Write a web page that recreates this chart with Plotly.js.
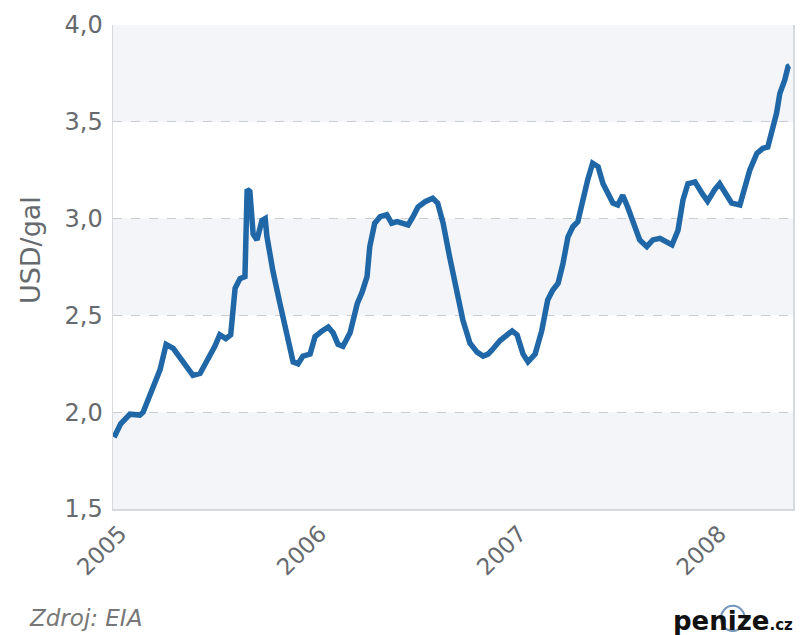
<!DOCTYPE html>
<html>
<head>
<meta charset="utf-8">
<script src="https://cdn.plot.ly/plotly-3.0.1.min.js"></script>
<style>
  html, body { margin: 0; padding: 0; background: #ffffff; }
  #chart { width: 800px; height: 635px; }
</style>
</head>
<body>
<div id="chart"></div>
<script>
// Weekly retail gasoline price, USD per gallon (source: EIA)
const dates = [
  '2005-01-03','2005-01-15','2005-02-01','2005-02-19','2005-02-25','2005-03-11','2005-03-28',
  '2005-04-08','2005-04-21','2005-05-09','2005-05-27','2005-06-09','2005-06-23','2005-07-06',
  '2005-07-15','2005-07-26','2005-08-04','2005-08-12','2005-08-21','2005-08-30','2005-09-03',
  '2005-09-08','2005-09-14','2005-09-21','2005-09-30','2005-10-06','2005-10-09','2005-10-20',
  '2005-11-02','2005-11-15','2005-11-26','2005-12-05','2005-12-14','2005-12-27','2006-01-05',
  '2006-01-18','2006-01-29','2006-02-07','2006-02-16','2006-02-25','2006-03-10','2006-03-23',
  '2006-04-01','2006-04-10','2006-04-15','2006-04-24','2006-05-04','2006-05-16','2006-05-25',
  '2006-06-04','2006-06-15','2006-06-24','2006-07-03','2006-07-12','2006-07-25','2006-08-08',
  '2006-08-17','2006-08-27','2006-09-08','2006-09-21','2006-10-02','2006-10-15','2006-10-28',
  '2006-11-08','2006-11-17','2006-11-24','2006-12-09','2006-12-31','2007-01-09','2007-01-20',
  '2007-01-29','2007-02-11','2007-02-23','2007-03-06','2007-03-15','2007-03-25','2007-04-03',
  '2007-04-12','2007-04-21','2007-04-30','2007-05-09','2007-05-18','2007-05-27','2007-06-06',
  '2007-06-15','2007-06-22','2007-07-03','2007-07-12','2007-07-21','2007-07-30','2007-08-09',
  '2007-08-21','2007-09-03','2007-09-14','2007-09-27','2007-10-10','2007-10-19','2007-10-30',
  '2007-11-08','2007-11-17','2007-11-30','2007-12-13','2007-12-23','2008-01-05','2008-01-14',
  '2008-01-25','2008-02-05','2008-02-20','2008-02-29','2008-03-09','2008-03-22','2008-04-02',
  '2008-04-11','2008-04-20','2008-04-27','2008-05-03','2008-05-12','2008-05-18','2008-05-21'
];

const prices = [
  1.87, 1.94, 1.99, 1.985, 2.00, 2.10, 2.22,
  2.35, 2.33, 2.26, 2.19, 2.20, 2.27, 2.34,
  2.40, 2.38, 2.40, 2.64, 2.69, 2.70, 3.15,
  3.14, 2.92, 2.89, 2.99, 3.00, 2.91, 2.73,
  2.56, 2.39, 2.26, 2.25, 2.29, 2.30, 2.39,
  2.42, 2.44, 2.41, 2.35, 2.34, 2.41, 2.56,
  2.62, 2.70, 2.855, 2.976, 3.01, 3.02, 2.976,
  2.984, 2.976, 2.967, 3.01, 3.06, 3.087, 3.105,
  3.08, 2.976, 2.80, 2.63, 2.476, 2.356, 2.31,
  2.29, 2.30, 2.32, 2.37, 2.42, 2.40, 2.30,
  2.26, 2.30, 2.42, 2.58, 2.63, 2.666, 2.77,
  2.906, 2.958, 2.984, 3.096, 3.20, 3.286, 3.268,
  3.18, 3.14, 3.08, 3.07, 3.12, 3.06, 2.976,
  2.89, 2.855, 2.89, 2.898, 2.88, 2.864, 2.94,
  3.096, 3.18, 3.19, 3.13, 3.09, 3.15, 3.18,
  3.13, 3.08, 3.07, 3.165, 3.25, 3.337, 3.363,
  3.37, 3.458, 3.544, 3.647, 3.716, 3.785, 3.79
];

const yTicks = [1.5, 2.0, 2.5, 3.0, 3.5, 4.0];
const yearTicks = ['2005-01-01', '2006-01-01', '2007-01-01', '2008-01-01'];
const yearLabels = ['2005', '2006', '2007', '2008'];

// Alternating shaded bands between gridlines
const bandShapes = [];
for (let i = 0; i < yTicks.length - 1; i += 2) {
  bandShapes.push({
    type: 'rect', xref: 'paper', yref: 'y', layer: 'below',
    x0: 0, x1: 1, y0: yTicks[i], y1: yTicks[i + 1],
    fillcolor: '#f3f5f8', line: { width: 0 }
  });
}

const trace = {
  x: dates, y: prices, type: 'scatter', mode: 'lines',
  line: { color: '#1f67a6', width: 5.5, shape: 'linear' },
  hoverinfo: 'x+y'
};

const labelColor = '#666a6e';

const layout = {
  width: 800, height: 635,
  margin: { l: 113, r: 7, t: 25, b: 126 },
  paper_bgcolor: '#ffffff', plot_bgcolor: 'rgba(0,0,0,0)',
  separators: ', ',
  showlegend: false,
  font: { family: 'DejaVu Sans, Arial, sans-serif', color: labelColor },
  xaxis: {
    type: 'date', range: ['2005-01-01', '2008-05-27'],
    tickvals: yearTicks, ticktext: yearLabels,
    tickangle: -45, tickfont: { size: 23, color: labelColor },
    ticklabelshift: 7,
    showgrid: false, zeroline: false,
    showline: true, linecolor: '#d6d9dd', linewidth: 2,
    ticks: ''
  },
  yaxis: {
    range: [1.5, 4.0], tickvals: yTicks, tickformat: '.1f',
    tickfont: { size: 24, color: labelColor },
    ticklabelstandoff: 4,
    showgrid: true, gridcolor: '#c9cdd2', griddash: 'dash', gridwidth: 1,
    zeroline: false, showline: true, mirror: true,
    linecolor: '#d6d9dd', linewidth: 1.5, ticks: ''
  },
  shapes: bandShapes.concat([
    // ring of the penize.cz mark around the letter i
    { type: 'circle', xref: 'paper', yref: 'paper',
      x0: 0.894, x1: 0.929, y0: -0.252, y1: -0.200,
      line: { color: '#7396ba', width: 2 }, layer: 'above' }
  ]),
  annotations: [
    { xref: 'paper', yref: 'paper', x: -0.122, y: 0.535, xanchor: 'center', yanchor: 'middle',
      text: 'USD/gal', textangle: -90, showarrow: false,
      font: { size: 27, color: labelColor } },
    { xref: 'paper', yref: 'paper', x: -0.126, y: -0.225, xanchor: 'left', yanchor: 'middle',
      text: '<i>Zdroj: EIA</i>', showarrow: false,
      font: { size: 23, color: '#777777' } },
    { xref: 'paper', yref: 'paper', x: 1.003, y: -0.231, xanchor: 'right', yanchor: 'middle',
      text: '<b>penize</b><b style="font-size:15px">.cz</b>', showarrow: false,
      font: { size: 26, color: '#111111' } }
  ]
};

Plotly.newPlot('chart', [trace], layout, { displayModeBar: false, staticPlot: true });
</script>
</body>
</html>
